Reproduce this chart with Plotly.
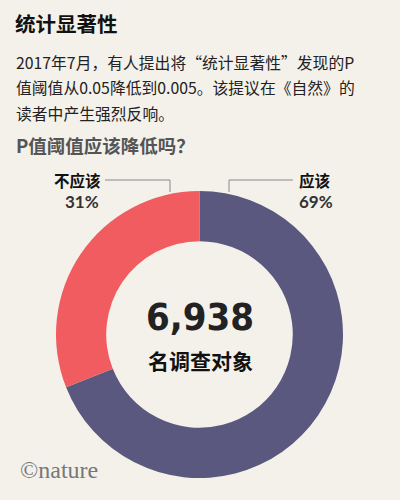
import plotly.graph_objects as go

labels = ["应该", "不应该"]
values = [69, 31]
colors = ["#5a587e", "#f05c5f"]
total_respondents = "6,938"

W, H = 400, 500
BG = "#f4f1ea"
CJK = "Noto Sans CJK SC"


def px(x):
    return x / W


def py(y):
    return 1 - y / H


fig = go.Figure()

fig.add_trace(
    go.Pie(
        labels=labels,
        values=values,
        hole=0.65,
        sort=False,
        direction="clockwise",
        rotation=0,
        marker=dict(colors=colors, line=dict(width=0)),
        textinfo="none",
        hoverinfo="label+percent",
        showlegend=False,
        domain=dict(x=[px(56), px(343)], y=[py(478), py(191)]),
    )
)

ann = []

# header texts
ann.append(dict(x=px(13), y=py(23), text="<b>统计显著性</b>",
                font=dict(family=CJK, size=20.5, color="#111111")))
body = ["2017年7月，有人提出将“统计显著性”发现的P",
        "值阈值从0.05降低到0.005。该提议在《自然》的",
        "读者中产生强烈反响。"]
for i, line in enumerate(body):
    ann.append(dict(x=px(14), y=py(62 + i * 26), text=line,
                    font=dict(family=CJK, size=15.8, color="#222222")))
ann.append(dict(x=px(14), y=py(145), text="<b>P值阈值应该降低吗？</b>",
                font=dict(family=CJK, size=18.5, color="#555555")))

# slice labels
ann.append(dict(x=px(103), y=py(180), text="<b>不应该</b>", xanchor="right",
                font=dict(family=CJK, size=15.5, color="#111111")))
ann.append(dict(x=px(101), y=py(201), text="<b>%d%%</b>" % values[1], xanchor="right",
                font=dict(family="Lato", size=17, color="#333333")))
ann.append(dict(x=px(297), y=py(180), text="<b>应该</b>",
                font=dict(family=CJK, size=15.5, color="#111111")))
ann.append(dict(x=px(297), y=py(201), text="<b>%d%%</b>" % values[0],
                font=dict(family="Lato", size=17, color="#333333")))

# centre text
ann.append(dict(x=0.5, y=py(317), text="<b>%s</b>" % total_respondents, xanchor="center",
                font=dict(family="DejaVu Sans Condensed, DejaVu Sans", size=38, color="#222222")))
ann.append(dict(x=0.5, y=py(360), text="<b>名调查对象</b>", xanchor="center",
                font=dict(family=CJK, size=21, color="#111111")))

# credit
ann.append(dict(x=px(18), y=py(470), text="©nature",
                font=dict(family="Liberation Serif", size=24, color="#777777")))

for a in ann:
    a.setdefault("xanchor", "left")
    a.update(xref="paper", yref="paper", yanchor="middle", showarrow=False)

line_style = dict(color="#888888", width=1)
shapes = [
    dict(type="path", path="M %f %f L %f %f L %f %f" % (px(105), py(180), px(170), py(180), px(170), py(192)),
         xref="paper", yref="paper", line=line_style),
    dict(type="path", path="M %f %f L %f %f L %f %f" % (px(229), py(192), px(229), py(180), px(293), py(180)),
         xref="paper", yref="paper", line=line_style),
]

fig.update_layout(
    width=W,
    height=H,
    margin=dict(l=0, r=0, t=0, b=0),
    paper_bgcolor=BG,
    plot_bgcolor=BG,
    annotations=ann,
    shapes=shapes,
)

fig.write_html("out.html", config={"displayModeBar": False},
               post_script="document.body.style.margin='0';")
